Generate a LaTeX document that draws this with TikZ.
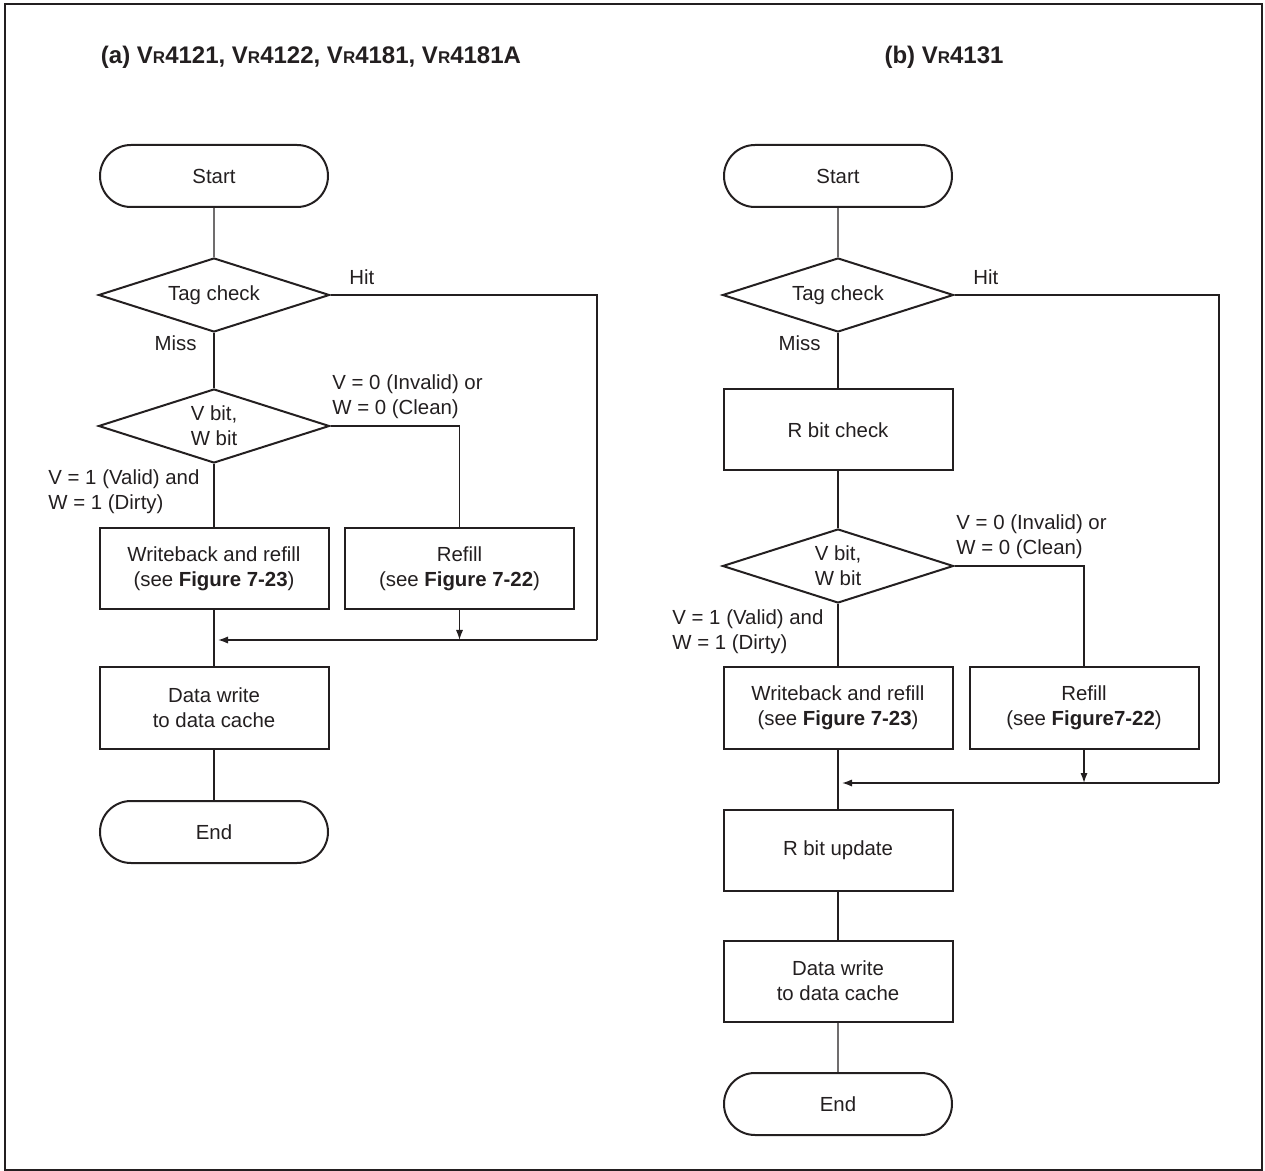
\documentclass[tikz,border=0pt]{standalone}
\usepackage{fontspec}
\setmainfont{Liberation Sans}
\usepackage{xcolor}
\usetikzlibrary{arrows.meta,shapes.geometric,shapes.misc}
\definecolor{myink}{HTML}{231F20}
\newcommand{\Vr}{V{\fontsize{8.5}{8.5}\selectfont R}}

\begin{document}
\begin{tikzpicture}[
  x=0.5pt,y=-0.5pt,
  font=\fontsize{10.2}{12.5}\selectfont,
  term/.style={draw=myink,rounded rectangle,line width=1pt,minimum width=114pt,minimum height=31pt,inner sep=0pt,text=myink},
  decision/.style={draw=myink,diamond,shape aspect=3.12,line width=1pt,minimum width=115.5pt,minimum height=37pt,inner sep=0pt,align=center,text=myink},
  proc/.style={draw=myink,rectangle,line width=1pt,minimum width=114.5pt,minimum height=40.5pt,inner sep=0pt,align=center,text=myink},
  line/.style={draw=myink,line width=0.7pt},
  arrow/.style={line,-{Latex[length=5pt,width=3.6pt]}},
  lbl/.style={align=left,inner sep=0pt,text=myink},
  title/.style={font=\fontsize{12}{14}\selectfont\bfseries,text=myink}
]
\useasboundingbox (0,0) rectangle (1265,1171);
\draw[myink,line width=1pt] (5,4) rectangle (1262,1170);

% (a) left flowchart
\node[title] (titleA) at (311,57) {(a) \Vr4121, \Vr4122, \Vr4181, \Vr4181A};
\node[term] (startA) at (214,176) {Start};
\node[decision] (tagA) at (214,295) {Tag check};
\node[decision] (vwA) at (214,426) {V bit,\\W bit};
\node[proc] (wbA) at (214,569) {Writeback and refill\\(see \textbf{Figure 7-23})};
\node[proc] (rfA) at (459.5,569) {Refill\\(see \textbf{Figure 7-22})};
\node[proc] (dataA) at (214,708) {Data write\\to data cache};
\node[term] (endA) at (214,832) {End};
\coordinate (hitA) at (597,640);
\coordinate (mrgA) at (214,640);

\node[lbl,anchor=west] (hitlA) at (349,277) {Hit};
\node[lbl,anchor=east] (misslA) at (197,343) {Miss};
\node[lbl,anchor=west] (cleanA) at (332,397) {V = 0 (Invalid) or\\W = 0 (Clean)};
\node[lbl,anchor=west] (dirtyA) at (48,492) {V = 1 (Valid) and\\W = 1 (Dirty)};

\draw[line] (startA) -- (tagA);
\draw[line] (tagA) -- (vwA);
\draw[line] (vwA) -- (wbA);
\draw[line] (vwA.east) -| (rfA.north);
\draw[line] (wbA) -- (dataA);
\draw[line] (dataA) -- (endA);
\draw[line] (tagA.east) -| (hitA);
\draw[arrow] (hitA) -- ([xshift=2pt]mrgA);
\draw[arrow] (rfA.south) -- (rfA.south |- hitA);

% (b) right flowchart
\node[title] (titleB) at (944,57) {(b) \Vr4131};
\node[term] (startB) at (838,176) {Start};
\node[decision] (tagB) at (838,295) {Tag check};
\node[proc] (rbB) at (838,430) {R bit check};
\node[decision] (vwB) at (838,566) {V bit,\\W bit};
\node[proc] (wbB) at (838,708) {Writeback and refill\\(see \textbf{Figure 7-23})};
\node[proc] (rfB) at (1084,708) {Refill\\(see \textbf{Figure7-22})};
\node[proc] (rbuB) at (838,850) {R bit update};
\node[proc] (dataB) at (838,981) {Data write\\to data cache};
\node[term] (endB) at (838,1104) {End};
\coordinate (hitB) at (1219,783);
\coordinate (mrgB) at (838,783);

\node[lbl,anchor=west] (hitlB) at (973,277) {Hit};
\node[lbl,anchor=east] (misslB) at (821,343) {Miss};
\node[lbl,anchor=west] (cleanB) at (956,537) {V = 0 (Invalid) or\\W = 0 (Clean)};
\node[lbl,anchor=west] (dirtyB) at (672,632) {V = 1 (Valid) and\\W = 1 (Dirty)};

\draw[line] (startB) -- (tagB);
\draw[line] (tagB) -- (rbB);
\draw[line] (rbB) -- (vwB);
\draw[line] (vwB) -- (wbB);
\draw[line] (vwB.east) -| (rfB.north);
\draw[line] (wbB) -- (rbuB);
\draw[line] (rbuB) -- (dataB);
\draw[line] (dataB) -- (endB);
\draw[line] (tagB.east) -| (hitB);
\draw[arrow] (hitB) -- ([xshift=2pt]mrgB);
\draw[arrow] (rfB.south) -- (rfB.south |- hitB);
\end{tikzpicture}
\end{document}
